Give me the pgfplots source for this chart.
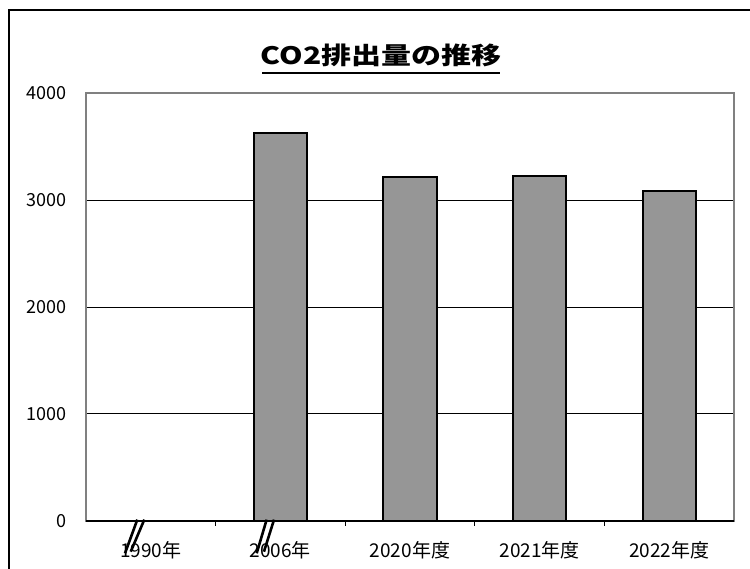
\documentclass[border=0pt]{standalone}
\usepackage{graphicx}
\usepackage{fontspec}
\setmainfont{Noto Sans CJK JP}
\usepackage{pgfplots}
\pgfplotsset{compat=1.18}

\begin{document}
\begin{tikzpicture}
\begin{axis}[
    at={(43pt,23.65pt)}, anchor=south west,
    scale only axis,
    width=324pt, height=213.6pt,
    xmin=-0.5, xmax=4.5, ymin=0, ymax=4000,
    xtick={0.5,1.5,2.5,3.5},
    xticklabels={},
    extra x ticks={0,1,2,3,4},
    extra x tick labels={1990年,2006年,2020年度,2021年度,2022年度},
    extra x tick style={tick style={draw=none}},
    xtick pos=lower, ytick pos=left,
    ytick={0,1000,...,4000},
    ymajorgrids,
    grid style={black, line width=0.5pt},
    axis line style={draw=black!50, line width=1pt},
    tick style={black, line width=0.5pt},
    major tick length=2.5pt,
    tick align=inside,
    tick label style={font=\fontsize{9}{10}\selectfont},
    xticklabel style={font=\fontsize{9.5}{10}\selectfont, anchor=base, yshift=-16pt},
    /pgf/number format/assume math mode=true,
    /pgf/number format/1000 sep={},
    yticklabel style={anchor=east, xshift=-6pt},
    ybar, bar width=0.41, bar shift=0pt,
    clip=false,
]
\addplot[fill=black!41, draw=black, line width=1pt]
    coordinates {(1,3627) (2,3215) (3,3230) (4,3087)};
% bottom axis in black
\draw[black, line width=1pt] (axis cs:-0.5,0) -- (axis cs:4.5,0);
% break marks
\draw[black, line width=1.3pt] (axis cs:-0.104,10) -- (axis cs:-0.199,-305);
\draw[black, line width=1.3pt] (axis cs:-0.050,10) -- (axis cs:-0.155,-290);
\draw[black, line width=1.3pt] (axis cs:0.894,10) -- (axis cs:0.817,-305);
\draw[black, line width=1.3pt] (axis cs:0.951,10) -- (axis cs:0.873,-290);
\end{axis}
% title
\node[font=\fontsize{12}{14}\selectfont\bfseries, inner sep=0pt] at (190.5pt,256.5pt)
    {\scalebox{1.25}[1]{CO2排出量の推移}};
\draw[black, line width=1pt] (131pt,247.6pt) -- (250pt,247.6pt);
% chart frame
\draw[black, line width=0.6pt] (4.5pt,-20pt) -- (4.5pt,279pt) -- (400pt,279pt);
\pgfresetboundingbox
\useasboundingbox (0pt,0pt) rectangle (375pt,284pt);
\end{tikzpicture}
\end{document}
